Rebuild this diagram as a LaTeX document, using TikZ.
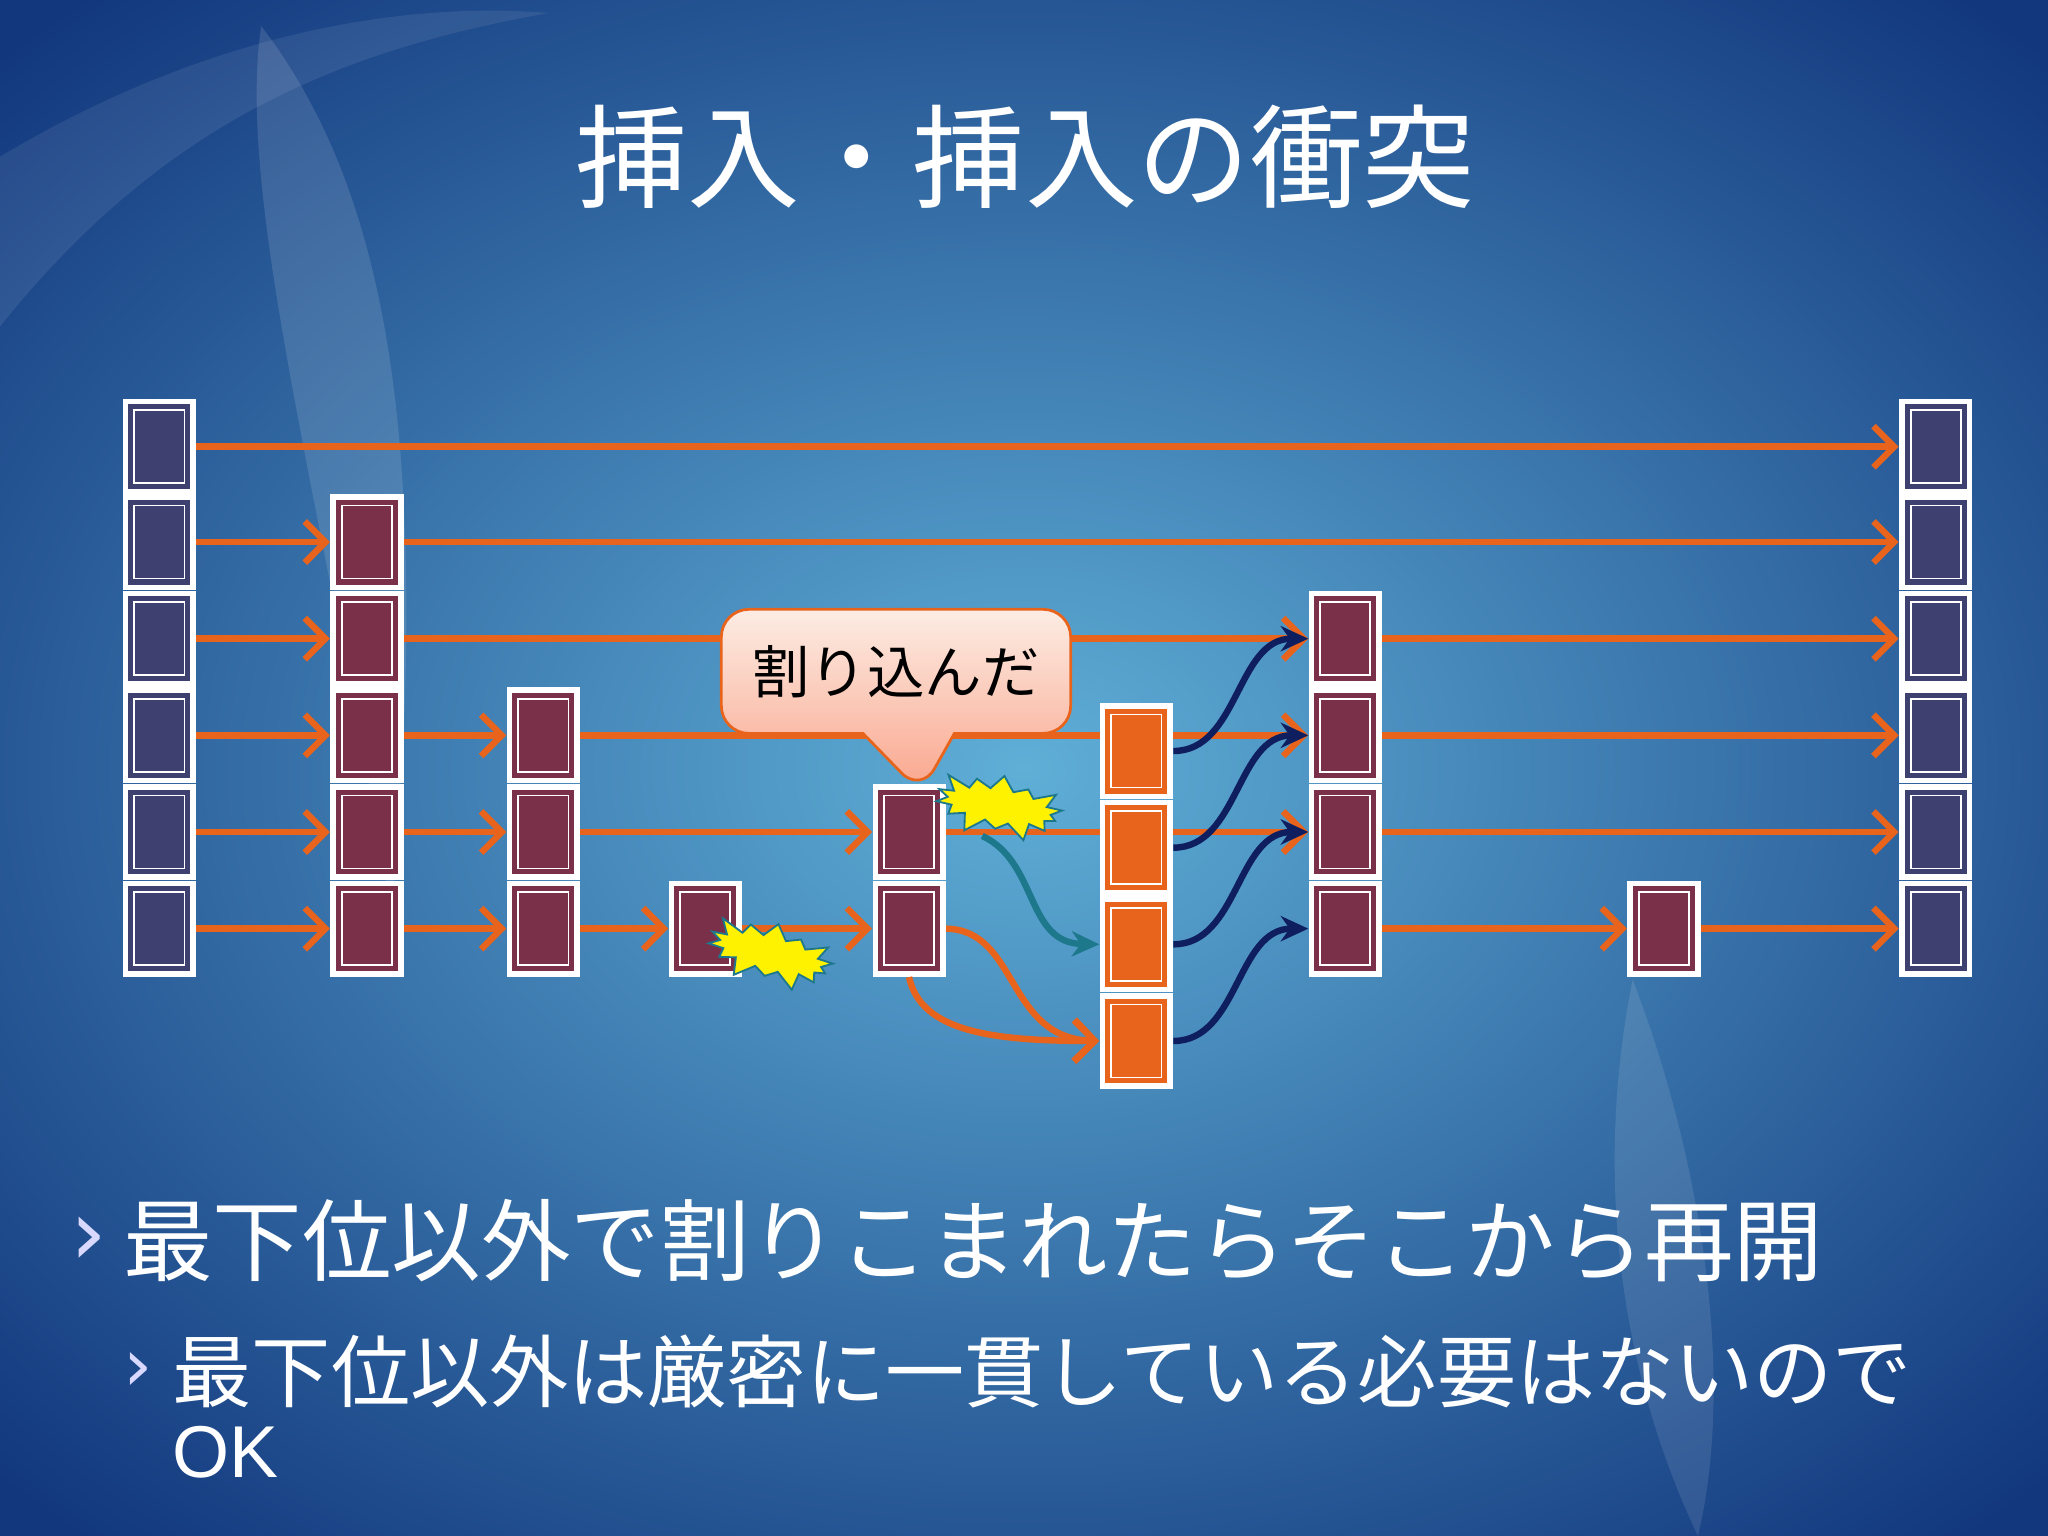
\documentclass[tikz,border=0pt]{standalone}
\usepackage{fontspec}
\newfontfamily\cjk{Noto Sans CJK JP}
\newfontfamily\dv{DejaVu Sans}
\setmainfont{Liberation Sans}
\usetikzlibrary{arrows.meta,shapes.symbols,shapes.callouts,calc}
\definecolor{bgin}{RGB}{95,175,215}
\definecolor{bgout}{RGB}{18,55,125}
\definecolor{cblue}{RGB}{62,64,112}
\definecolor{cred}{RGB}{122,48,72}
\definecolor{corg}{RGB}{232,100,28}
\definecolor{navy}{RGB}{15,30,95}
\definecolor{teal2}{RGB}{30,120,140}
\tikzset{
  cellbox/.style={rectangle,fill=white,minimum width=1.12cm,minimum height=1.47cm,inner sep=0pt,
    path picture={
      \fill[#1] ([shift={(2.4pt,-2.4pt)}]path picture bounding box.north west) rectangle ([shift={(-2.4pt,2.4pt)}]path picture bounding box.south east);
      \draw[white,line width=0.8pt] ([shift={(5pt,-5pt)}]path picture bounding box.north west) rectangle ([shift={(-5pt,5pt)}]path picture bounding box.south east);
    }},
  arr/.style={draw=corg,line width=2.8pt,-{Straight Barb[length=9pt,width=18pt,line width=2.8pt]}},
  narr/.style={draw=navy,line width=2.8pt,-{Stealth[length=12pt,width=11pt]}},
  tarr/.style={draw=teal2,line width=2.8pt,-{Stealth[length=12pt,width=11pt]}},
  boom/.style={starburst,fill=yellow,draw=teal2,line width=0.8pt,minimum width=2.2cm,minimum height=1.1cm,starburst points=14,starburst point height=0.3cm},
}
\begin{document}
\begin{tikzpicture}[x=0.02cm,y=-0.02cm]
\useasboundingbox (0,0) rectangle (1568,1176);
\shade[inner color=bgin,outer color=bgout] (-300,-200) rectangle (1868,1376);
\fill[white,opacity=0.12] (200,20) .. controls (300,150) and (330,350) .. (300,700) .. controls (250,400) and (180,150) .. (200,20);
\fill[white,opacity=0.1] (1250,750) .. controls (1220,900) and (1240,1050) .. (1300,1176) .. controls (1330,1050) and (1300,880) .. (1250,750);
\fill[white,opacity=0.08] (0,120) .. controls (150,30) and (300,0) .. (420,10) .. controls (250,40) and (120,100) .. (0,250) -- cycle;
% title
\node[text=white] (title) at (785,120) {\cjk\fontsize{49pt}{55pt}\selectfont 挿入・挿入の衝突};
% cells
\foreach \i/\y in {1/342,2/415,3/489,4/563,5/637,6/711}{
  \node[cellbox=cblue] (a\i) at (122,\y) {};
  \node[cellbox=cblue] (h\i) at (1482,\y) {};
}
\foreach \i/\y in {2/415,3/489,4/563,5/637,6/711}{\node[cellbox=cred] (b\i) at (281,\y) {};}
\foreach \i/\y in {4/563,5/637,6/711}{\node[cellbox=cred] (c\i) at (416,\y) {};}
\node[cellbox=cred] (d6) at (540,711) {};
\node[cellbox=cred] (e5) at (696,637) {};
\node[cellbox=cred] (e6) at (696,711) {};
\foreach \i/\y in {3/489,4/563,5/637,6/711}{\node[cellbox=cred] (f\i) at (1030,\y) {};}
\node[cellbox=cred] (g6) at (1274,711) {};
% arrows
\draw[arr] (a1) -- (h1);
\draw[arr] (a2) -- (b2); \draw[arr] (b2) -- (h2);
\draw[arr] (a3) -- (b3); \draw[arr] (b3) -- (f3); \draw[arr] (f3) -- (h3);
\draw[arr] (a4) -- (b4); \draw[arr] (b4) -- (c4); \draw[arr] (c4) -- (f4); \draw[arr] (f4) -- (h4);
\draw[arr] (a5) -- (b5); \draw[arr] (b5) -- (c5); \draw[arr] (c5) -- (e5); \draw[arr] (e5) -- (f5); \draw[arr] (f5) -- (h5);
\draw[arr] (a6) -- (b6); \draw[arr] (b6) -- (c6); \draw[arr] (c6) -- (d6); \draw[arr] (d6) -- (e6); \draw[arr] (f6) -- (g6); \draw[arr] (g6) -- (h6);
% orange column
\foreach \i/\y in {1/575,2/649,3/723,4/797}{\node[cellbox=corg] (o\i) at (870,\y) {};}
\draw[arr] (e6.east) .. controls (780,712) and (770,795) .. (o4.west);
\draw[arr] (e6.south) .. controls (705,790) and (760,797) .. (o4.west);
\coordinate (tstart) at (752,640);
\draw[tarr] (tstart) .. controls (795,660) and (785,722) .. (o3.west);
\foreach \i/\j in {1/3,2/4,3/5,4/6}{\draw[narr] (o\i.east) .. controls +(50,0) and +(-55,0) .. (f\j.west);}
% explosions
\node[boom,rotate=-15] (x1) at (590,730) {};
\node[boom,rotate=-10] (x2) at (765,617) {};
% callout
\node[rectangle callout,rounded corners=12pt,draw=corg,line width=1.2pt,top color=white!70!corg!40,bottom color={rgb,255:red,250;green,165;blue,140},minimum width=5.35cm,minimum height=1.9cm,callout absolute pointer={(705,607)},callout pointer width=1.4cm,text=black] (call) at (686,514) {\cjk\fontsize{25pt}{28pt}\selectfont 割り込んだ};
% bullets
\node[text=white!85!blue,anchor=west] (m1) at (48,950) {\dv\fontsize{40pt}{42pt}\selectfont ›};
\node[text=white,anchor=west] (t1) at (88,950) {\cjk\fontsize{39pt}{44pt}\selectfont 最下位以外で割りこまれたらそこから再開};
\node[text=white!85!blue,anchor=west] (m2) at (88,1050) {\dv\fontsize{32pt}{34pt}\selectfont ›};
\node[text=white,anchor=west] (t2) at (126,1050) {\cjk\fontsize{34.5pt}{40pt}\selectfont 最下位以外は厳密に一貫している必要はないので};
\node[text=white,anchor=west] (t3) at (126,1112) {\fontsize{32pt}{36pt}\selectfont OK};
\end{tikzpicture}
\end{document}
